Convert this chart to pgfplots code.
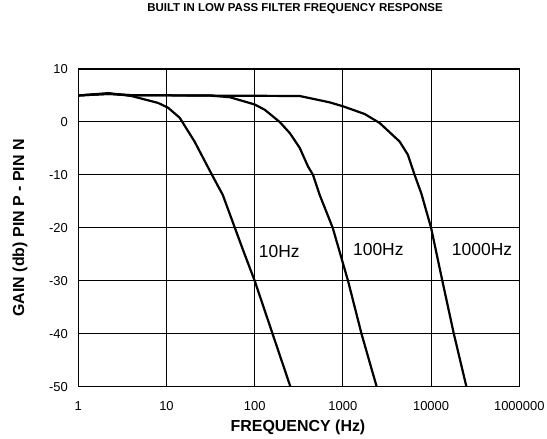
\documentclass[border=0pt]{standalone}
\usepackage{fontspec}
\setmainfont{Liberation Sans}
\usepackage{pgfplots}
\pgfplotsset{compat=1.18}
\begin{document}
\begin{tikzpicture}
\useasboundingbox (-78.3bp,-52.3bp) rectangle (468.7bp,386.7bp);
\begin{axis}[
  at={(0,0)}, anchor=south west,
  scale only axis, width=441bp, height=317.7bp,
  xmode=log, xmin=1, xmax=100000, ymin=-50, ymax=10,
  xtick={1,10,100,1000,10000,100000},
  xticklabels={1,10,100,1000,10000,1000000},
  ytick={-50,-40,-30,-20,-10,0,10},
  yticklabels={-50,-40,-30,-20,-10,0,10},
  xminorticks=false,
  grid=major, major grid style={black, line width=0.9bp},
  major tick length=0pt,
  axis line style={black, line width=1.2bp},
  ticklabel style={font=\fontsize{13}{15}\selectfont},
  xticklabel style={anchor=center, yshift=-19.3bp},
  yticklabel style={anchor=east, inner sep=0pt, xshift=-10.3bp},
  title={BUILT IN LOW PASS FILTER FREQUENCY RESPONSE},
  title style={at={(axis description cs:0.4914,1.170)}, anchor=center,
    font=\bfseries\fontsize{11.5}{13}\selectfont},
  xlabel={FREQUENCY (Hz)},
  xlabel style={at={(axis description cs:0.4982,-0.1268)}, anchor=center,
    font=\bfseries\fontsize{16}{18}\selectfont},
  ylabel={GAIN (db) PIN P - PIN N},
  ylabel style={at={(axis description cs:-0.1322,0.5)}, anchor=center,
    font=\bfseries\fontsize{16}{18}\selectfont},
]
% 10 Hz
\addplot[black, line width=2.2bp, line join=round] coordinates {
  (1,5.0) (2.2,5.45) (4,4.9) (8,3.6) (10.4,2.7) (14.1,0.8) (20.8,-3.7)
  (32.1,-9.7) (43.5,-13.8) (73.8,-24.2) (100,-30) (254,-50)};
% 100 Hz
\addplot[black, line width=2.2bp, line join=round] coordinates {
  (1,5.0) (2.2,5.3) (4,5.05) (30,5.0) (52.3,4.67) (100,3.3) (130,2.3)
  (192,0) (250,-2.1) (324,-4.9) (402,-8.4) (458,-10) (546,-13.8)
  (767,-20) (1143,-30) (1625,-40) (2415,-50)};
% 1000 Hz
\addplot[black, line width=2.2bp, line join=round] coordinates {
  (1,5.0) (2.2,5.3) (4,5.05) (324,4.9) (708,3.7) (1000,2.96) (1766,1.5)
  (2612,-0.2) (4395,-3.7) (5458,-6.2) (6500,-10) (7747,-13.5)
  (10000,-20) (13410,-30) (18100,-40) (25140,-50)};
\node[font=\fontsize{17.5}{19}\selectfont] at (axis cs:190,-24.5) {10Hz};
\node[font=\fontsize{17.5}{19}\selectfont] at (axis cs:2524,-24.1) {100Hz};
\node[font=\fontsize{17.5}{19}\selectfont] at (axis cs:37800,-24.1) {1000Hz};
\end{axis}
\end{tikzpicture}
\end{document}
